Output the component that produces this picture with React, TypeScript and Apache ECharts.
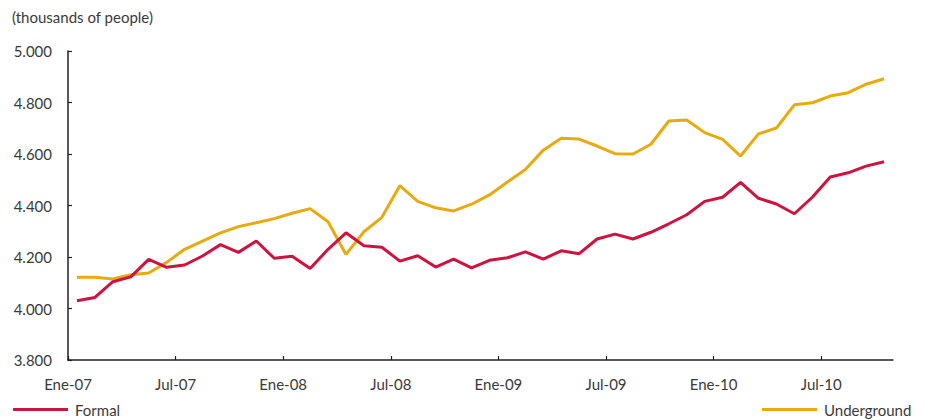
import React, { useEffect, useRef } from "react";
import * as echarts from "echarts";

const months: string[] = [
  "Ene-07", "Feb-07", "Mar-07", "Abr-07", "May-07", "Jun-07", "Jul-07", "Ago-07", "Sep-07", "Oct-07", "Nov-07", "Dic-07",
  "Ene-08", "Feb-08", "Mar-08", "Abr-08", "May-08", "Jun-08", "Jul-08", "Ago-08", "Sep-08", "Oct-08", "Nov-08", "Dic-08",
  "Ene-09", "Feb-09", "Mar-09", "Abr-09", "May-09", "Jun-09", "Jul-09", "Ago-09", "Sep-09", "Oct-09", "Nov-09", "Dic-09",
  "Ene-10", "Feb-10", "Mar-10", "Abr-10", "May-10", "Jun-10", "Jul-10", "Ago-10", "Sep-10", "Oct-10",
];

const formal: number[] = [
  4030, 4043, 4104, 4123, 4191, 4160, 4169, 4204, 4248, 4218, 4262, 4195,
  4203, 4155, 4230, 4294, 4244, 4238, 4184, 4205, 4161, 4192, 4158, 4187,
  4197, 4220, 4192, 4224, 4213, 4270, 4289, 4270, 4296, 4329, 4364, 4416,
  4432, 4490, 4428, 4406, 4368, 4432, 4511, 4527, 4553, 4570,
];

const underground: number[] = [
  4121, 4121, 4115, 4131, 4138, 4179, 4230, 4262, 4294, 4318, 4333, 4349,
  4370, 4388, 4337, 4210, 4298, 4354, 4477, 4416, 4391, 4379, 4405, 4441,
  4491, 4540, 4615, 4661, 4658, 4631, 4601, 4600, 4638, 4728, 4732, 4683,
  4657, 4592, 4678, 4701, 4791, 4799, 4825, 4838, 4871, 4892,
];

const tickLabels: string[] = ["Ene-07", "Jul-07", "Ene-08", "Jul-08", "Ene-09", "Jul-09", "Ene-10", "Jul-10"];

const FONT = "Lato";
const TEXT = "#3a3a3a";
const RED = "#d0123f";
const GOLD = "#e9aa0f";

export default function App() {
  const ref = useRef<HTMLDivElement>(null);
  useEffect(() => {
    if (!ref.current) return;
    const chart = echarts.init(ref.current, undefined, { renderer: "svg" });
    const tickPositions = tickLabels.map((t) => months.indexOf(t));
    const fmtThousands = (v: number) => {
      const s = String(Math.round(v));
      return s.replace(/\B(?=(\d{3})+(?!\d))/g, ".");
    };
    const legendBase = {
      top: 402,
      padding: 0,
      itemWidth: 55,
      itemHeight: 3,
      icon: "rect",
      textStyle: { fontFamily: FONT, fontSize: 15, color: TEXT, padding: [0, 0, 0, 2] },
    };
    chart.setOption({
      animation: false,
      textStyle: { fontFamily: FONT },
      graphic: [
        {
          type: "text",
          left: 12,
          top: 9,
          style: { text: "(thousands of people)", fontFamily: FONT, fontSize: 15, fill: TEXT },
        },
      ],
      legend: [
        { ...legendBase, data: ["Formal"], left: 13 },
        { ...legendBase, data: ["Underground"], left: 762 },
      ],
      grid: { left: 68, right: 33, top: 51, bottom: 60 },
      xAxis: {
        type: "value",
        min: 0,
        max: months.length,
        axisLine: { show: true, lineStyle: { color: "#222", width: 1.5 } },
        axisTick: {
          show: true,
          inside: true,
          length: 4,
          customValues: tickPositions,
          lineStyle: { color: "#222", width: 1.2 },
        },
        axisLabel: {
          customValues: tickPositions,
          formatter: (v: number) => months[Math.round(v)] ?? "",
          fontFamily: FONT,
          fontSize: 15,
          color: TEXT,
          margin: 16,
        },
        splitLine: { show: false },
      },
      yAxis: {
        type: "value",
        min: 3800,
        max: 5000,
        interval: 200,
        axisLine: { show: true, lineStyle: { color: "#222", width: 1.5 } },
        axisTick: { show: true, inside: true, length: 4, lineStyle: { color: "#222", width: 1.2 } },
        axisLabel: {
          formatter: (v: number) => fmtThousands(v),
          fontFamily: FONT,
          fontSize: 15,
          color: TEXT,
          margin: 16,
        },
        splitLine: { show: false },
      },
      series: [
        {
          name: "Formal",
          type: "line",
          data: formal.map((v, i) => [i + 0.5, v]),
          showSymbol: false,
          symbol: "none",
          lineStyle: { color: RED, width: 3 },
          itemStyle: { color: RED },
          z: 3,
        },
        {
          name: "Underground",
          type: "line",
          data: underground.map((v, i) => [i + 0.5, v]),
          showSymbol: false,
          symbol: "none",
          lineStyle: { color: GOLD, width: 3 },
          itemStyle: { color: GOLD },
          z: 2,
        },
      ],
    });
    return () => chart.dispose();
  }, []);
  return (
    <div
      ref={ref}
      style={{ position: "fixed", left: 0, top: 0, width: 926, height: 420, background: "#fff" }}
    />
  );
}
